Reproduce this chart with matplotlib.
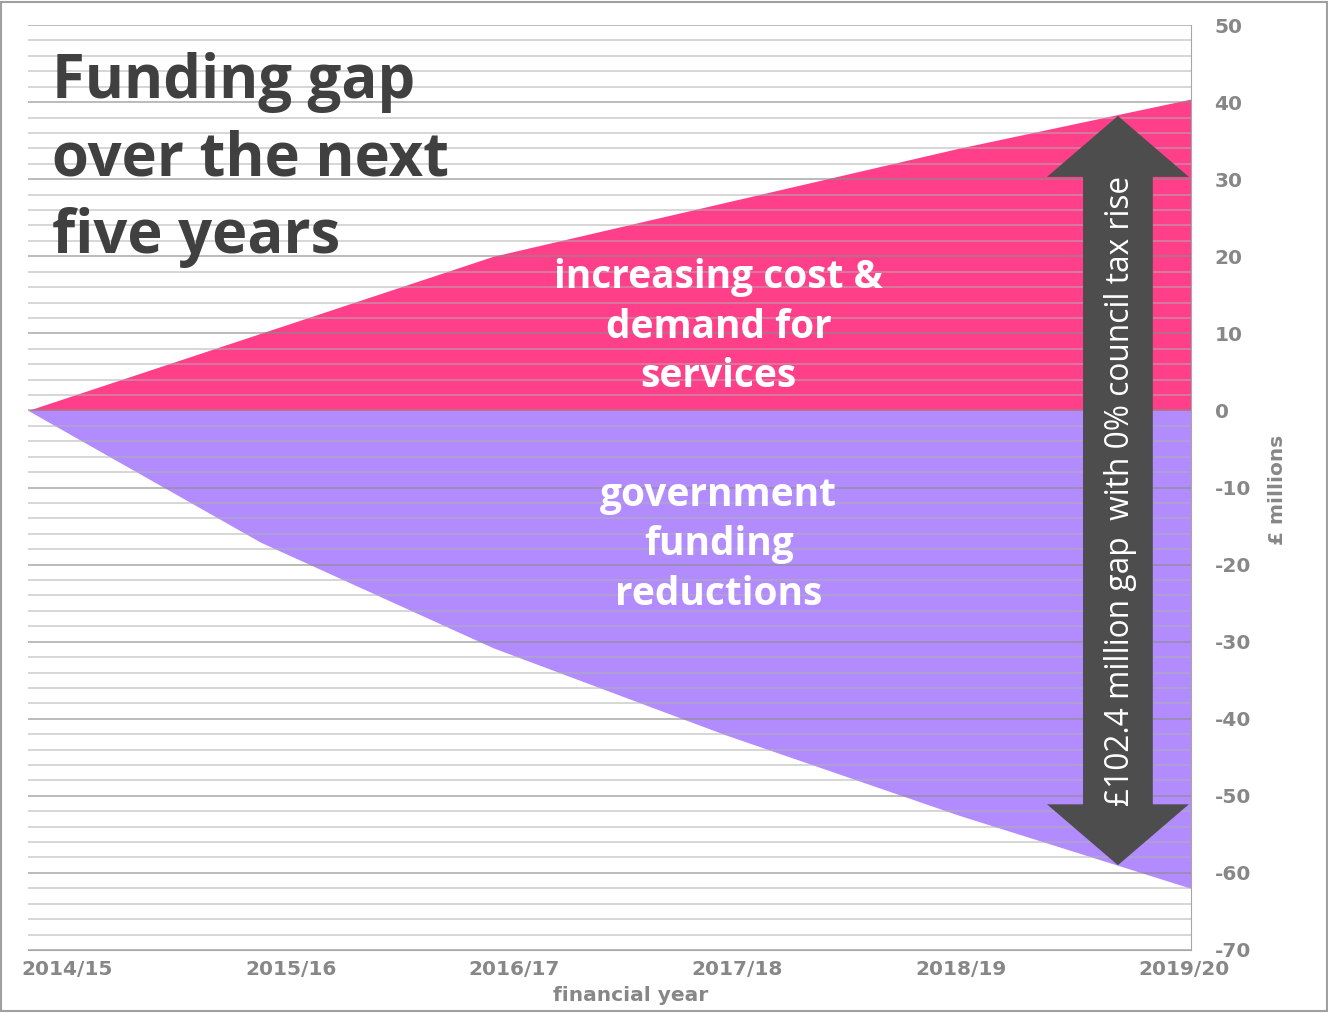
import numpy as np
import matplotlib
matplotlib.use("Agg")
import matplotlib.pyplot as plt
from matplotlib.patches import Polygon, Rectangle

# --- DATA ---
years = ["2014/15", "2015/16", "2016/17", "2017/18", "2018/19", "2019/20"]
cost_demand = [0, 10, 20, 27, 34, 40.4]          # increasing cost & demand
gov_reductions = [0, -17.1, -30.8, -42.1, -52.5, -62.0]  # government funding reductions
y_ticks = [50, 40, 30, 20, 10, 0, -10, -20, -30, -40, -50, -60, -70]

plt.rcParams['font.family'] = ['Open Sans', 'DejaVu Sans']
tick_font = ['DejaVu Sans']
tick_col = '#878787'

fig = plt.figure(figsize=(13.28, 10.13), dpi=100)
ax = fig.add_axes([0.0211, 0.0622, 0.8757, 0.9131])

x = np.arange(len(years))
ax.fill_between(x, 0, cost_demand, color='#ff3f8a', lw=0, zorder=1)
ax.fill_between(x, gov_reductions, 0, color='#b28cff', lw=0, zorder=1)

# grid lines every 2, darker every 10, drawn over the fills
for v in np.arange(-70, 51, 2):
    if v % 10 == 0:
        ax.axhline(v, color='#8c8c8c', lw=1.1, alpha=0.75, zorder=2)
    else:
        ax.axhline(v, color='#b0b0b0', lw=1.1, alpha=0.65, zorder=2)

ax.set_xlim(0, len(years) - 1)
ax.set_ylim(-70, 50)

# double-headed arrow showing the total gap
xc = 4.686
top = cost_demand[-1] - 2.2
bot = gov_reductions[-1] + 3.0
hw, sw, hl = 0.305, 0.15, 7.9
pts = [(xc, top), (xc + hw, top - hl), (xc + sw, top - hl), (xc + sw, bot + hl),
       (xc + hw, bot + hl), (xc, bot), (xc - hw, bot + hl), (xc - sw, bot + hl),
       (xc - sw, top - hl), (xc - hw, top - hl)]
ax.add_patch(Polygon(pts, closed=True, facecolor='#4d4d4d', edgecolor='none', zorder=3))
gap = cost_demand[-1] - gov_reductions[-1]
ax.text(xc + 0.01, (top + bot) / 2, f"£{gap:.1f} million gap  with 0% council tax rise",
        rotation=90, ha='center', va='center', color='white', fontsize=22.8, zorder=4)

ax.text(2.97, 10.8, "increasing cost &\ndemand for\nservices", ha='center', va='center',
        color='white', fontsize=28, fontweight='bold', linespacing=1.35, zorder=4)
ax.text(2.97, -17.4, "government\nfunding\nreductions", ha='center', va='center',
        color='white', fontsize=28, fontweight='bold', linespacing=1.35, zorder=4)

fig.text(0.039, 0.949, "Funding gap\nover the next\nfive years", ha='left', va='top',
         color='#404040', fontsize=43, fontweight='bold', linespacing=1.36)

# axes styling
for s in ['top', 'left']:
    ax.spines[s].set_visible(False)
for s in ['bottom', 'right']:
    ax.spines[s].set_color('#a6a6a6')
ax.yaxis.tick_right()
ax.set_yticks(y_ticks)
ax.set_yticklabels([str(t) for t in y_ticks])
ax.tick_params(axis='y', length=0, pad=17, labelsize=14.5, labelcolor=tick_col)
for lab in ax.get_yticklabels():
    lab.set_fontweight('bold')
    lab.set_family(tick_font)
ax.set_xticks([])

for i, yr in enumerate(years):
    ax.text(0.17 + i * 0.96, -71.3, yr, ha='center', va='top', color=tick_col,
            fontsize=14.5, fontweight='bold', family=tick_font)
fig.text(0.475, 0.017, "financial year", ha='center', va='center', color=tick_col,
         fontsize=14.5, fontweight='bold', family=tick_font)
fig.text(0.962, 0.516, "£ millions", ha='center', va='center', rotation=90,
         color=tick_col, fontsize=14.5, fontweight='bold', family=tick_font)

fig.patches.append(Rectangle((0.0005, 0.0015), 0.999, 0.997, transform=fig.transFigure,
                             fill=False, edgecolor='#a0a0a0', lw=1.5))

fig.savefig("out.png", dpi=100)
